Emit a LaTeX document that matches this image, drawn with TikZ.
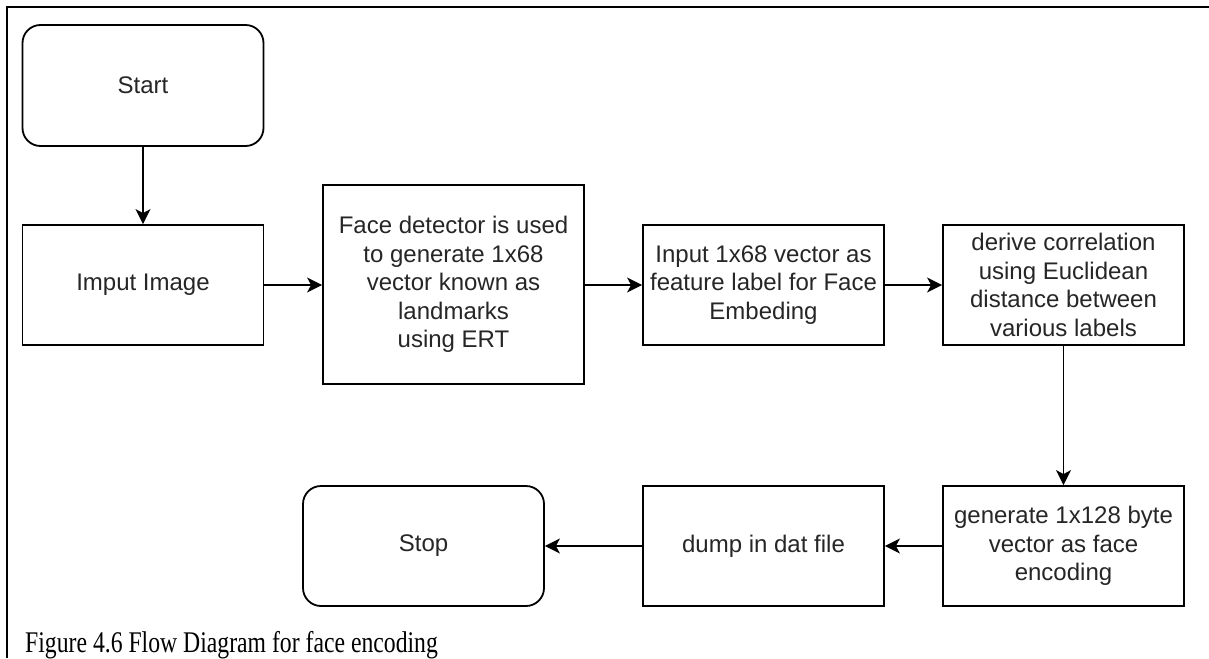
\documentclass[tikz,border=0pt]{standalone}
\usepackage{fontspec}
\setmainfont{Liberation Serif}
\newfontfamily\boxfont{Liberation Sans}
\usetikzlibrary{arrows.meta}
\begin{document}
\begin{tikzpicture}[x=1pt,y=-1pt,
  box/.style={draw=black, line width=1.8pt, fill=white, align=center, inner sep=0pt,
    font=\boxfont\fontsize{24}{28.5}\selectfont, text=black!85,
    minimum width=241pt, minimum height=120pt},
  term/.style={box, rounded corners=18pt},
  flow/.style={line width=1.8pt, -{Stealth[length=15pt,width=15pt,inset=4pt]}}]
\useasboundingbox (0,0) rectangle (1209,658);
\fill[white] (0,0) rectangle (1209,658);
\draw[line width=2.4pt] (7,658) -- (7,7) -- (1209,7);

\node[term, minimum height=121pt] (start) at (143,85.5) {Start};
\node[box] (imput) at (143,285) {Imput Image};
\node[box, minimum width=261pt, minimum height=199pt] (face) at (453.5,284.5)
  {Face detector is used\\to generate 1x68\\vector known as\\landmarks\\using ERT};
\node[box] (input) at (763.5,285) {Input 1x68 vector as\\feature label for Face\\Embeding};
\node[box] (derive) at (1063.5,285) {derive correlation\\using Euclidean\\distance between\\various labels};
\node[box] (gen) at (1063.5,546) {generate 1x128 byte\\vector as face\\encoding};
\node[box] (dump) at (763.5,546) {dump in dat file};
\node[term] (stop) at (423.5,546) {Stop};

\draw[flow] (start) -- (imput);
\draw[flow] (imput) -- (imput -| face.west);
\draw[flow] (face.east |- input) -- (input);
\draw[flow] (input) -- (derive);
\draw[flow] (derive) -- (gen);
\draw[flow] (gen) -- (dump);
\draw[flow] (dump) -- (stop);

\node[anchor=base west, inner sep=0pt, font=\fontsize{30}{32}\selectfont] (cap) at (25,652)
  {\scalebox{0.79}[1]{Figure 4.6 Flow Diagram for face encoding}};
\end{tikzpicture}
\end{document}
